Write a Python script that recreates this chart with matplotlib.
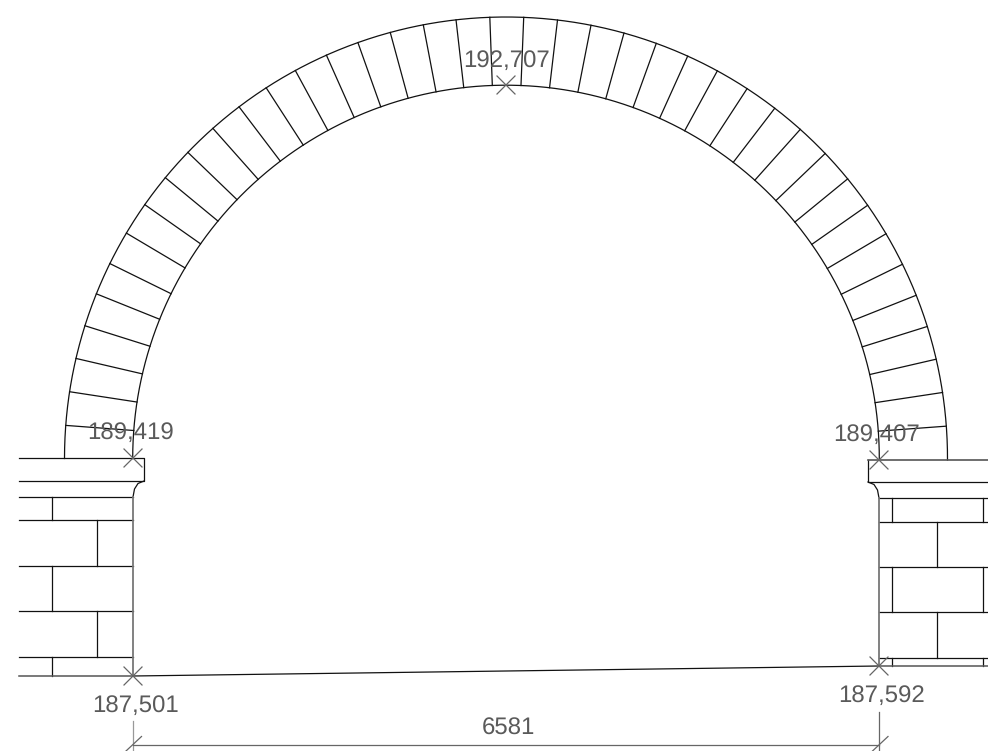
import numpy as np
import matplotlib
matplotlib.use('Agg')
import matplotlib.pyplot as plt

plt.rcParams['font.family'] = ['Liberation Sans', 'DejaVu Sans']
plt.rcParams['text.hinting'] = 'no_hinting'
plt.rcParams['text.hinting_factor'] = 1

# everything is in reference pixels
arch_centre = (506, 458.5)
r_inner = 373.3
r_outer = 441.5

# joint angles up from the springing line, degrees
joints_left = [4.3, 8.7, 13.1, 17.5, 21.9, 26.2, 30.7, 35.1, 39.5, 43.9,
               48.4, 52.8, 57.1, 61.5, 66.0, 70.4, 74.8, 79.2, 83.5, 87.9]
joints_right = [4.2, 8.6, 13.0, 17.4, 21.7, 26.1, 30.6, 35.0, 39.3, 43.7,
                48.2, 52.5, 56.9, 61.4, 65.7, 70.1, 74.5, 78.9, 83.3, 87.7]

# left pier
left_ledge = [(19, 458), (144, 458), (144, 481), (19, 481)]
left_curve = [(144, 481), (138, 483.5), (134.5, 489), (133, 497)]
left_courses = [497, 520, 565.5, 611, 656.5]
left_joints = [(52, 497, 520), (97, 520, 565.5), (52, 565.5, 611), (97, 611, 656.5), (52, 656.5, 676)]

# right pier
right_ledge = [(988, 482), (868, 482), (868, 460)]
right_curve = [(868, 482), (874, 484.5), (877.5, 490), (879, 498)]
right_courses = [498, 522, 567, 612, 658]
right_joints = [(891.5, 498, 522), (982.5, 498, 522), (937, 522, 567), (891.5, 567, 612), (982.5, 567, 612),
                (937, 612, 658), (891.5, 658, 666), (982.5, 658, 666)]

floor = [(133, 676), (879, 666)]
crosses = [(133, 458), (879, 460), (506, 85), (133, 676), (879, 666)]

levels = ['192,707', '189,419', '189,407', '187,501', '187,592', '6581']
level_x = [507, 131, 876.5, 135.5, 882, 508]
level_y = [67, 439, 441, 712, 702, 735]

INK = '#111111'
GREY = '#666666'
LW = 0.9

fig = plt.figure(figsize=(9.88, 7.51), dpi=100)
ax = fig.add_axes([0, 0, 1, 1])
ax.set_xlim(0, 988)
ax.set_ylim(751, 0)
ax.axis('off')

cx, cy = arch_centre
t = np.radians(np.linspace(-0.2, 180, 400))
for r in (r_inner, r_outer):
    ax.plot(cx + r * np.cos(t), cy - r * np.sin(t), color=INK, lw=LW)

for a in joints_left:
    s, c = np.sin(np.radians(a)), np.cos(np.radians(a))
    ax.plot([cx - r_inner * c, cx - r_outer * c], [cy - r_inner * s, cy - r_outer * s], color=INK, lw=LW)
for a in joints_right:
    s, c = np.sin(np.radians(a)), np.cos(np.radians(a))
    ax.plot([cx + r_inner * c, cx + r_outer * c], [cy - r_inner * s, cy - r_outer * s], color=INK, lw=LW)

# piers
ax.plot(*zip(*left_ledge), color=INK, lw=LW)
ax.plot(*zip(*left_curve), color=INK, lw=LW)
for y in left_courses:
    ax.plot([19, 133], [y, y], color=INK, lw=LW)
for x, y0, y1 in left_joints:
    ax.plot([x, x], [y0, y1], color=INK, lw=LW)
ax.plot([133, 133], [497, 676], color='#777777', lw=1.3)
ax.plot([19, 133], [676, 676], color='#555555', lw=1.1)

ax.plot(*zip(*right_ledge), color=INK, lw=LW)
ax.plot(*zip(*right_curve), color=INK, lw=LW)
for y in right_courses:
    ax.plot([879, 988], [y, y], color=INK, lw=LW)
for x, y0, y1 in right_joints:
    ax.plot([x, x], [y0, y1], color=INK, lw=LW)
ax.plot([879, 879], [498, 666], color='#777777', lw=1.3)
ax.plot([868, 988], [460, 460], color='#555555', lw=1.2)
ax.plot([879, 988], [666, 666], color='#555555', lw=1.1)

ax.plot(*zip(*floor), color=INK, lw=LW)

for x, y in crosses:
    ax.plot([x - 9, x + 9], [y - 9, y + 9], color=GREY, lw=LW)
    ax.plot([x - 9, x + 9], [y + 9, y - 9], color=GREY, lw=LW)

# dimension line
ax.plot([133, 133], [721, 751], color='#999999', lw=LW)
ax.plot([879, 879], [712, 751], color=GREY, lw=LW)
ax.plot([133, 879], [745, 745], color=GREY, lw=LW)
ax.plot([126, 141.5], [751, 736.5], color=GREY, lw=LW)
ax.plot([872.5, 888], [751, 736.5], color=GREY, lw=LW)

for s, x, y in zip(levels, level_x, level_y):
    ax.text(x, y, s, color='#5a5a5a', fontsize=17, ha='center', va='baseline')

fig.savefig('out.png', dpi=100)
